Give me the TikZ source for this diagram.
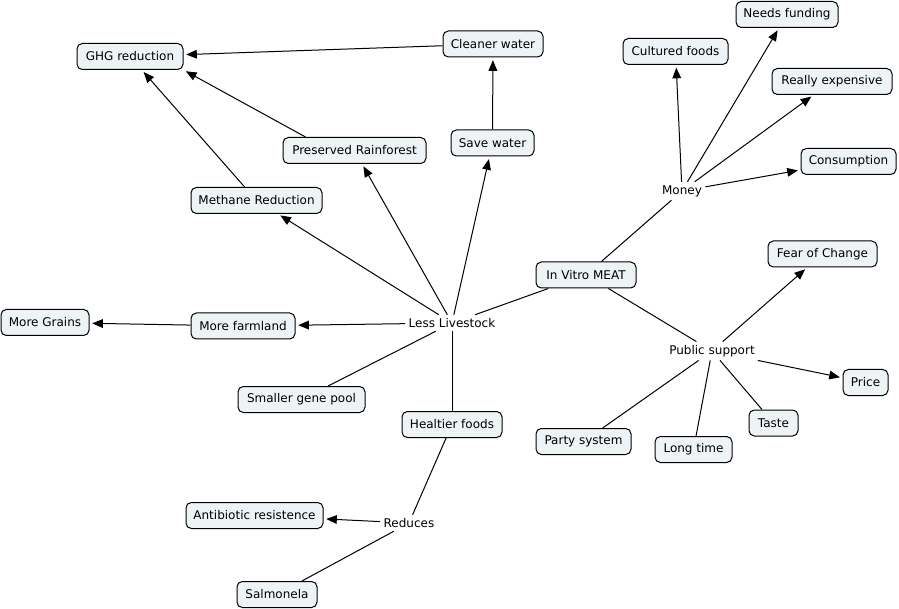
\documentclass[tikz,border=0pt]{standalone}
\usepackage{fontspec}
\setmainfont{DejaVu Sans}
\usetikzlibrary{arrows.meta,calc}
\definecolor{boxfill}{RGB}{238,243,245}
\begin{document}
\begin{tikzpicture}[x=0.75pt,y=-0.75pt,
  concept/.style={draw=black, fill=boxfill, rounded corners=4pt, line width=0.75pt,
    minimum height=19.5pt, inner xsep=3pt, inner ysep=2pt, font=\fontsize{9}{11}\selectfont},
  w/.style={minimum width=#1*0.75pt},
  lbl/.style={inner sep=2.5pt, font=\fontsize{9}{11}\selectfont},
  conn/.style={line width=0.75pt},
  arr/.style={conn, -{Triangle[length=8pt,width=6.5pt]}, shorten >=2pt}]
\useasboundingbox (0,0) rectangle (899,609);

% concepts
\node[concept,w=106] (ghg) at (130,56.5) {GHG reduction};
\node[concept,w=100] (cw) at (493,44) {Cleaner water};
\node[concept,w=102] (nf) at (787,14.5) {Needs funding};
\node[concept,w=105] (cf) at (675.5,51.5) {Cultured foods};
\node[concept,w=120] (re) at (832,81.5) {Really expensive};
\node[concept,w=143] (pr) at (354.5,150.5) {Preserved Rainforest};
\node[concept,w=83] (sw) at (492.5,143) {Save water};
\node[concept,w=95] (co) at (848.5,161.5) {Consumption};
\node[concept,w=131] (mr) at (256.5,200.5) {Methane Reduction};
\node[concept,w=109] (fc) at (822.5,254) {Fear of Change};
\node[concept,w=100] (iv) at (586,275) {In Vitro MEAT};
\node[concept,w=88] (mg) at (45,322.5) {More Grains};
\node[concept,w=104] (mf) at (243,326) {More farmland};
\node[concept,w=45] (pc) at (865.5,382.5) {Price};
\node[concept,w=127] (sg) at (301.5,399.5) {Smaller gene pool};
\node[concept,w=100] (hf) at (452,424.5) {Healtier foods};
\node[concept,w=95] (ps) at (583.5,441.5) {Party system};
\node[concept,w=77] (lt) at (693.5,449.5) {Long time};
\node[concept,w=49] (ta) at (773.5,423) {Taste};
\node[concept,w=137] (ar) at (254.5,515.5) {Antibiotic resistence};
\node[concept,w=80] (sa) at (277,594.5) {Salmonela};

% linking phrases
\node[lbl] (ll) at (452,323) {Less Livestock};
\node[lbl] (mo) at (682,191) {Money};
\node[lbl] (pu) at (712,351) {Public support};
\node[lbl] (rd) at (409,523) {Reduces};

% connectors
\draw[arr] (cw) -- (ghg);
\draw[arr] ($(pr.north)+(-49,0)$) -- (ghg.south east);
\draw[arr] (mr) -- (ghg);
\draw[arr] (sw) -- (cw);

\draw[arr] (ll) -- (mr);
\draw[arr] (ll) -- (pr);
\draw[arr] (ll) -- (sw);
\draw[arr] (ll) -- (mf);
\draw[conn] (ll) -- (sg);
\draw[conn] (ll) -- (hf);
\draw[conn] (iv) -- (ll);
\draw[arr] (mf) -- (mg);

\draw[conn] (iv) -- (mo);
\draw[arr] (mo) -- (cf);
\draw[arr] (mo) -- (nf);
\draw[arr] (mo) -- (re);
\draw[arr] (mo) -- (co);

\draw[conn] (iv) -- (pu);
\draw[arr] (pu) -- (fc);
\draw[arr] (pu) -- (pc);
\draw[conn] (pu) -- (ps);
\draw[conn] (pu) -- (lt);
\draw[conn] (pu) -- (ta);

\draw[conn] (hf) -- (rd);
\draw[arr] (rd) -- (ar);
\draw[conn] (rd) -- (sa);
\end{tikzpicture}
\end{document}
